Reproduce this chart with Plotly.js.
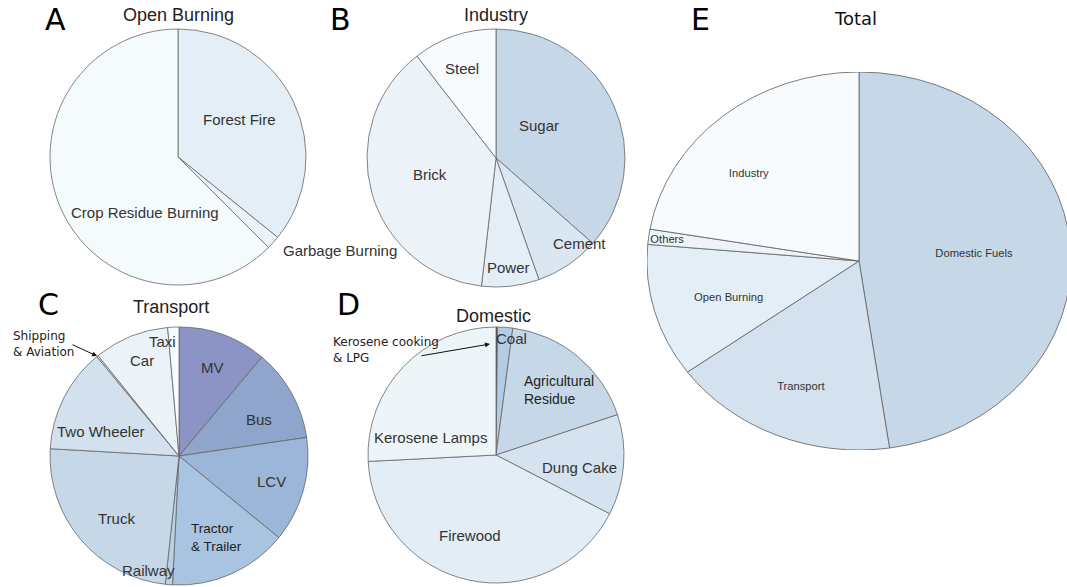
<!DOCTYPE html>
<html>
<head>
<meta charset="utf-8">
<script src="https://cdn.plot.ly/plotly-3.0.1.min.js"></script>
<style>
html,body{margin:0;padding:0;overflow:hidden;background:#fff;}
#main{position:absolute;left:0;top:0;width:1067px;height:587px;}
#total{position:absolute;left:670px;top:72px;width:378px;height:378px;transform:scaleX(1.122);transform-origin:50% 50%;}
</style>
</head>
<body>
<div id="main"></div>
<div id="total"></div>
<script>
// ---------- data ----------
const openLabels = ["Forest Fire", "Garbage Burning", "Crop Residue Burning"];
const openValues = [35.8, 1.7, 62.5];
const openColors = ["#e3eef6", "#edf3f8", "#f5fafd"];

const industryLabels = ["Sugar", "Cement", "Power", "Brick", "Steel"];
const industryValues = [36.5, 8.1, 7.2, 37.7, 10.5];
const industryColors = ["#c6d7e8", "#dae6f1", "#e3eef6", "#ecf3f8", "#f7fbfd"];

const transportLabels = ["MV", "Bus", "LCV", "Tractor & Trailer", "Railway", "Truck", "Two Wheeler", "Shipping & Aviation", "Car", "Taxi"];
const transportValues = [11.1, 11.6, 13.2, 14.9, 0.9, 24.2, 13.1, 0.2, 9.4, 1.4];
const transportColors = ["#8c94c6", "#8fa5cc", "#9bb6d8", "#a9c4e0", "#b8cfe5", "#c6d7e8", "#d3e1ee", "#e0eaf3", "#ecf3f8", "#f7fbfd"];

const domesticLabels = ["Kerosene cooking & LPG", "Coal", "Agricultural Residue", "Dung Cake", "Firewood", "Kerosene Lamps"];
const domesticValues = [0.2, 1.9, 17.8, 12.7, 41.6, 25.8];
const domesticColors = ["#444444", "#b3cbe3", "#c6d7e8", "#d5e2ef", "#e3edf5", "#eef5f9"];

const totalLabels = ["Domestic Fuels", "Transport", "Open Burning", "Others", "Industry"];
const totalValues = [47.7, 17.3, 11.4, 1.3, 22.3];
const totalColors = ["#c6d7e8", "#d4e2ef", "#e3eef6", "#edf3f8", "#f7fbfd"];

// ---------- helpers ----------
const W = 1067, H = 587;
function dom(cx, cy, r) {
  return {x: [(cx - r) / W, (cx + r) / W], y: [1 - (cy + r) / H, 1 - (cy - r) / H]};
}
function pie(labels, values, colors, d) {
  return {
    type: "pie", labels: labels, values: values, sort: false, direction: "clockwise",
    rotation: 0, textinfo: "none", hoverinfo: "label+percent", domain: d,
    marker: {colors: colors, line: {color: "#666", width: 0.8}}, showlegend: false
  };
}
const SANS = "Liberation Sans, Arial, sans-serif";
const LBL = {family: SANS, size: 15, color: "#333"};
const TTL = {family: SANS, size: 18, color: "#222"};
const BIG = {family: "DejaVu Sans, sans-serif", size: 30, color: "#000"};
const SML = {family: "DejaVu Sans, sans-serif", size: 12, color: "#222"};
function ann(text, x, y, font, align) {
  return {text: text, x: x / W, y: 1 - y / H, xref: "paper", yref: "paper", showarrow: false,
    font: font, xanchor: align || "center", yanchor: "middle", align: align || "center"};
}
function arrow(x, y, ax, ay) {
  return {text: "", x: x / W, y: 1 - y / H, xref: "paper", yref: "paper", showarrow: true,
    ax: ax - x, ay: ay - y, arrowhead: 2, arrowsize: 1, arrowwidth: 1, arrowcolor: "#111"};
}

const traces = [
  pie(openLabels, openValues, openColors, dom(178, 157, 128)),
  pie(industryLabels, industryValues, industryColors, dom(496, 158, 129)),
  pie(transportLabels, transportValues, transportColors, dom(179, 456, 129)),
  pie(domesticLabels, domesticValues, domesticColors, dom(496, 455, 128))
];

const annotations = [
  ann("A", 55, 19, BIG), ann("B", 340, 19, BIG), ann("C", 48, 304, BIG), ann("D", 348, 304, BIG), ann("E", 700, 19, BIG),
  ann("Open Burning", 178, 15, TTL), ann("Industry", 496, 15, TTL), ann("Transport", 171, 307, TTL),
  ann("Domestic", 493, 316, TTL),
  ann("Total", 855, 18, {family: "DejaVu Sans, sans-serif", size: 18, color: "#111"}),
  // A
  ann("Forest Fire", 239, 119, LBL), ann("Crop Residue Burning", 145, 213, LBL), ann("Garbage Burning", 340, 250, LBL),
  // B
  ann("Sugar", 539, 126, LBL), ann("Steel", 462, 69, LBL), ann("Brick", 430, 174, LBL),
  ann("Cement", 579, 243, LBL), ann("Power", 508, 267, LBL),
  // C
  ann("Taxi", 162, 341, LBL), ann("Car", 142, 360, LBL), ann("MV", 212, 367, LBL), ann("Bus", 259, 419, LBL),
  ann("Two Wheeler", 101, 431, LBL), ann("LCV", 271, 481, LBL), ann("Truck", 116, 518, LBL),
  ann("Tractor<br>& Trailer", 189, 537, {family: SANS, size: 13.5, color: "#222"}, "left"),
  ann("Railway", 148, 570, LBL),
  ann("Shipping<br>& Aviation", 11, 344, SML, "left"),
  arrow(97, 356, 71, 344),
  // D
  ann("Coal", 511, 338, LBL),
  ann("Agricultural<br>Residue", 522, 390, {family: SANS, size: 14, color: "#222"}, "left"),
  ann("Dung Cake", 579, 467, LBL), ann("Kerosene Lamps", 430, 437, LBL), ann("Firewood", 470, 535, LBL),
  ann("Kerosene cooking<br>& LPG", 331, 350, SML, "left"),
  arrow(490, 344, 420, 356)
];

Plotly.newPlot("main", traces, {
  width: W, height: H, margin: {l: 0, r: 0, t: 0, b: 0},
  paper_bgcolor: "#fff", plot_bgcolor: "#fff", annotations: annotations, showlegend: false
}, {displayModeBar: false, staticPlot: true});

// ---------- total (stretched horizontally via CSS) ----------
const TW = 378;
const EL = {family: SANS, size: 10, color: "#333"};
function ann2(text, x, y) {
  return {text: text, x: x / TW, y: 1 - y / TW, xref: "paper", yref: "paper", showarrow: false,
    font: EL, xanchor: "center", yanchor: "middle"};
}
const tTrace = pie(totalLabels, totalValues, totalColors, {x: [0, 1], y: [0, 1]});
Plotly.newPlot("total", [tTrace], {
  width: TW, height: TW, margin: {l: 0, r: 0, t: 0, b: 0},
  paper_bgcolor: "rgba(0,0,0,0)", plot_bgcolor: "rgba(0,0,0,0)", showlegend: false,
  annotations: [
    ann2("Industry", 91, 102), ann2("Others", 18, 167), ann2("Open Burning", 73, 225),
    ann2("Transport", 137, 314), ann2("Domestic Fuels", 291, 182)
  ]
}, {displayModeBar: false, staticPlot: true});
</script>
</body>
</html>
